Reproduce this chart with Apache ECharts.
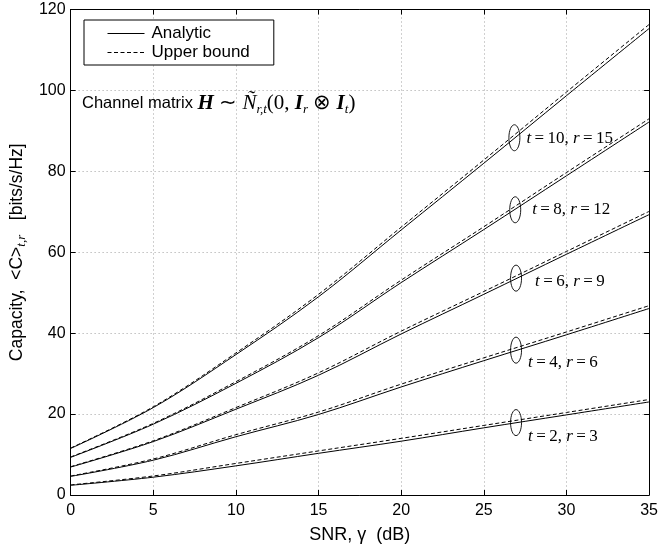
<!DOCTYPE html>
<html><head><meta charset="utf-8">
<script src="https://cdn.jsdelivr.net/npm/echarts@6/dist/echarts.min.js"></script>
<style>html,body{margin:0;padding:0;background:#fff}#c{width:661px;height:549px}</style>
</head><body><div id="c"></div>
<script>
// SNR values (dB)
const snr = [0, 5, 10, 15, 20, 25, 30, 35];
// Analytic capacity curves
const analytic_t10 = [11.5, 21.6, 34.7, 49.0, 65.5, 82.0, 98.7, 115.3];
const analytic_t8  = [9.3, 17.5, 27.6, 38.9, 52.5, 65.6, 78.9, 92.2];
const analytic_t6  = [6.9, 13.2, 21.2, 29.6, 39.8, 49.6, 59.5, 69.3];
const analytic_t4  = [4.6, 8.6, 14.4, 19.9, 26.7, 33.2, 39.6, 46.1];
const analytic_t2  = [2.4, 4.4, 7.2, 10.3, 13.3, 16.6, 19.8, 23.0];
// Upper bound curves
const upper_t10 = [11.6, 21.8, 35.1, 49.6, 66.2, 82.8, 99.6, 116.3];
const upper_t8  = [9.4, 17.7, 28.0, 39.4, 53.1, 66.3, 79.7, 93.0];
const upper_t6  = [7.0, 13.4, 21.6, 30.2, 40.5, 50.3, 60.2, 70.1];
const upper_t4  = [4.7, 8.9, 14.9, 20.5, 27.4, 33.9, 40.3, 46.8];
const upper_t2  = [2.5, 4.7, 7.8, 10.9, 14.0, 17.2, 20.4, 23.6];
// Annotation (ellipse) positions and labels
const annoX = [26.85, 26.9, 26.95, 26.95, 26.95];
const annoY = [88.3, 70.5, 53.6, 35.8, 17.9];
const annoT = ['10', '8', '6', '4', '2'];
const annoR = ['15', '12', '9', '6', '3'];
// Axis settings
const xMin = 0, xMax = 35, xStep = 5;
const yMin = 0, yMax = 120, yStep = 20;

const labelDx = [12, 17, 19, 12, 12];
const labelDy = [1, 0, 3, 12, 14];

const pairs = [
  [analytic_t10, upper_t10], [analytic_t8, upper_t8], [analytic_t6, upper_t6],
  [analytic_t4, upper_t4], [analytic_t2, upper_t2]
];
const series = [];
pairs.forEach(([a, u]) => {
  series.push({
    name: 'Analytic', type: 'line', symbol: 'none', smooth: 0.35,
    data: snr.map((x, i) => [x, a[i]]),
    lineStyle: { color: '#000', width: 1, type: 'solid' }, itemStyle: { color: '#000' },
    z: 3, silent: true, animation: false
  });
  series.push({
    name: 'Upper bound', type: 'line', symbol: 'none', smooth: 0.35,
    data: snr.map((x, i) => [x, u[i]]),
    lineStyle: { color: '#000', width: 1, type: [4, 2.5] }, itemStyle: { color: '#000' },
    z: 3, silent: true, animation: false
  });
});

const serif = 'Liberation Serif';
const sans = 'Liberation Sans';
series.push({
  type: 'custom', silent: true, animation: false, z: 5,
  data: annoX.map((x, i) => [x, annoY[i]]),
  renderItem: function (params, api) {
    const i = params.dataIndex;
    const p = api.coord([api.value(0), api.value(1)]);
    return {
      type: 'group',
      children: [
        { type: 'ellipse', shape: { cx: p[0], cy: p[1], rx: 5.5, ry: 13 },
          style: { fill: 'none', stroke: '#000', lineWidth: 0.9 } },
        { type: 'text', x: p[0] + labelDx[i], y: p[1] + labelDy[i],
          style: {
            text: '{i|t}{n|\u2009=\u2009' + annoT[i] + ', }{i|r}{n|\u2009=\u2009' + annoR[i] + '}',
            rich: {
              i: { fontFamily: serif, fontStyle: 'italic', fontSize: 17, fill: '#000' },
              n: { fontFamily: serif, fontSize: 17, fill: '#000' }
            },
            fill: '#000', align: 'left', verticalAlign: 'middle'
          } }
      ]
    };
  }
});

const axisLineStyle = { color: '#000', width: 1 };
const gridStyle = { color: '#a0a0a0', width: 1, type: [1, 3] };
const chart = echarts.init(document.getElementById('c'), null, { renderer: 'canvas' });
chart.setOption({
  backgroundColor: '#fff',
  animation: false,
  grid: { left: 62, right: 9, top: 9.5, bottom: 54, containLabel: false },
  legend: {
    show: true, orient: 'vertical', left: 84, top: 20,
    data: ['Analytic', 'Upper bound'],
    itemWidth: 37, itemHeight: 20, itemGap: 2,
    padding: [5, 24, 4, 23],
    backgroundColor: '#fff', borderColor: '#000', borderWidth: 1, borderRadius: 0,
    itemStyle: { opacity: 0 },
    lineStyle: { width: 1 },
    textStyle: { fontFamily: sans, fontSize: 17, color: '#000', padding: [0, 0, 0, 2] },
    selectedMode: false
  },
  xAxis: [{
    type: 'value', min: xMin, max: xMax, interval: xStep, position: 'bottom',
    axisLine: { show: true, onZero: false, lineStyle: axisLineStyle },
    axisTick: { show: true, inside: true, length: 5, lineStyle: axisLineStyle },
    axisLabel: { color: '#000', fontFamily: sans, fontSize: 16, margin: 8 },
    splitLine: { show: true, lineStyle: gridStyle },
    name: 'SNR, \u03b3  (dB)', nameLocation: 'middle', nameGap: 31,
    nameTextStyle: { color: '#000', fontFamily: sans, fontSize: 18 }
  }, {
    type: 'value', min: xMin, max: xMax, interval: xStep, position: 'top',
    axisLine: { show: true, onZero: false, lineStyle: axisLineStyle },
    axisTick: { show: true, inside: true, length: 5, lineStyle: axisLineStyle },
    axisLabel: { show: false }, splitLine: { show: false }
  }],
  yAxis: [{
    type: 'value', min: yMin, max: yMax, interval: yStep, position: 'left',
    axisLine: { show: true, onZero: false, lineStyle: axisLineStyle },
    axisTick: { show: true, inside: true, length: 5, lineStyle: axisLineStyle },
    axisLabel: { color: '#000', fontFamily: sans, fontSize: 16, margin: 5 },
    splitLine: { show: true, lineStyle: gridStyle },
    name: '{a|Capacity,  <C>}{s|t,r}{a|   [bits/s/Hz]}',
    nameLocation: 'middle', nameGap: 38, nameRotate: 90,
    nameTextStyle: {
      color: '#000',
      rich: {
        a: { fontFamily: sans, fontSize: 17.5, color: '#000', lineHeight: 22, verticalAlign: 'middle' },
        s: { fontFamily: serif, fontStyle: 'italic', fontSize: 13, color: '#000', lineHeight: 14, verticalAlign: 'bottom' }
      }
    }
  }, {
    type: 'value', min: yMin, max: yMax, interval: yStep, position: 'right',
    axisLine: { show: true, onZero: false, lineStyle: axisLineStyle },
    axisTick: { show: true, inside: true, length: 5, lineStyle: axisLineStyle },
    axisLabel: { show: false }, splitLine: { show: false }
  }],
  graphic: [{
    type: 'text', left: 82, top: 93, z: 10,
    style: {
      text: '{a|Channel matrix }{H|H}{m| \u223c }{N|\u00d1}{s|r,t}{m|(0, }{H|I}{s|r}{m| \u2297 }{H|I}{s|t}{m|)}',
      rich: {
        a: { fontFamily: sans, fontSize: 16.5, fill: '#000', lineHeight: 26, verticalAlign: 'middle' },
        H: { fontFamily: serif, fontStyle: 'italic', fontWeight: 'bold', fontSize: 21, fill: '#000', lineHeight: 26, verticalAlign: 'middle' },
        N: { fontFamily: serif, fontStyle: 'italic', fontSize: 21, fill: '#000', lineHeight: 26, verticalAlign: 'middle' },
        m: { fontFamily: serif, fontSize: 21, fill: '#000', lineHeight: 26, verticalAlign: 'middle' },
        s: { fontFamily: serif, fontStyle: 'italic', fontSize: 13, fill: '#000', lineHeight: 16, verticalAlign: 'bottom' }
      }
    }
  }],
  series: series
});
</script>
</body></html>
